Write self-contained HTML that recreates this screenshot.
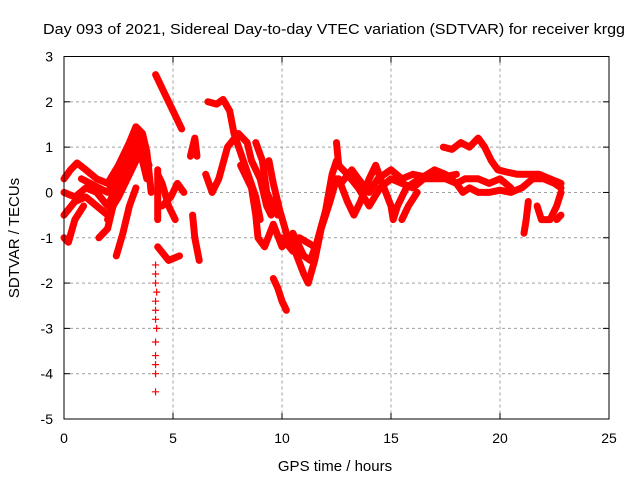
<!DOCTYPE html>
<html><head><meta charset="utf-8"><style>
body{margin:0;background:#fff;}
svg{display:block;font-family:"Liberation Sans",sans-serif;}
</style></head><body>
<svg id="chart" width="640" height="480">
<text x="334" y="34" font-size="15" text-anchor="middle" textLength="582" lengthAdjust="spacingAndGlyphs">Day 093 of 2021, Sidereal Day-to-day VTEC variation (SDTVAR) for receiver krgg</text>
<text x="335" y="471" font-size="15" text-anchor="middle">GPS time / hours</text>
<text x="0" y="0" font-size="15" text-anchor="middle" transform="translate(19,238) rotate(-90)">SDTVAR / TECUs</text>
<g id="grid"></g>
<g id="axes"></g>
<g id="series"></g>
<rect x="64" y="56.5" width="545" height="362.5" fill="none" stroke="#000" stroke-width="1"/>
</svg>
<script>
const xTicks=[0,5,10,15,20,25];
const yTicks=[3,2,1,0,-1,-2,-3,-4,-5];
const tracks=[
[[0,0.3],[0.3,0.5],[0.6,0.65],[1,0.5],[1.5,0.3],[2,0.2],[2.5,0.6],[3,1.1],[3.3,1.45],[3.6,1.3],[3.8,0.9],[4.0,0.0]],
[[0,0.0],[0.5,-0.1],[1,0.1],[1.5,0.0],[2,-0.3],[2.5,0.2],[3,0.7],[3.5,1.2],[3.9,0.6]],
[[0,-0.5],[0.5,-0.2],[1,-0.1],[1.5,-0.3],[2.0,-0.5],[2.5,-0.1],[3,0.4],[3.5,0.9],[3.8,0.3]],
[[0.8,0.3],[1.2,0.2],[1.6,0.1],[2.0,0.0],[2.4,0.3]],
[[2.2,0.0],[2.6,0.5],[3.0,1.0],[3.4,1.4],[3.7,1.0]],
[[2.0,-0.6],[2.5,0.0],[3.0,0.5],[3.5,1.0],[3.9,0.4]],
[[0,-1.0],[0.2,-1.1],[0.5,-0.6],[0.9,-0.3]],
[[1.6,-1.0],[2,-0.8],[2.3,-0.2],[2.8,0.3]],
[[2.4,-1.4],[2.7,-0.9],[3.0,-0.3],[3.3,0.1]],
[[4.2,2.6],[4.5,2.3],[4.8,2.0],[5.1,1.7],[5.4,1.4]],
[[4.3,0.5],[4.3,-0.6]],
[[4.3,0.4],[4.5,0.2],[4.8,-0.3],[5.1,-0.6]],
[[4.5,-0.3],[4.9,-0.1],[5.2,0.2],[5.5,0.0]],
[[4.3,-1.2],[4.8,-1.5],[5.3,-1.4]],
[[5.9,-0.5],[6.0,-1.0],[6.2,-1.5]],
[[5.8,0.8],[6.0,1.2],[6.1,0.8]],
[[6.5,0.4],[6.8,0.0],[7.1,0.3],[7.5,1.0],[8.0,1.3],[8.4,1.1],[8.6,0.7],[9.0,0.3],[9.3,-0.3],[9.5,-0.5]],
[[6.6,2.0],[7.0,1.95],[7.3,2.05],[7.6,1.8],[7.8,1.3],[8.3,0.6],[8.8,-0.1],[9.0,-0.6]],
[[8.8,1.1],[9.1,0.7],[9.3,0.0],[9.8,-0.5]],
[[8.1,0.6],[8.6,0.1],[8.8,-0.5],[8.9,-1.0],[9.2,-1.2],[9.6,-0.7],[10,-1.2],[10.5,-0.9],[11.0,-1.4],[11.3,-1.5],[11.6,-1.1],[12,-0.4],[12.3,0.4],[12.5,0.7]],
[[9.4,0.7],[9.6,0.2],[9.9,-0.4],[10.2,-0.9],[10.6,-1.3],[11.0,-1.8],[11.2,-2.0],[11.5,-1.5],[11.8,-0.8],[12.2,-0.2],[12.5,0.3]],
[[9.6,-1.9],[9.8,-2.1],[10.0,-2.4],[10.2,-2.6]],
[[10.0,-1.0],[10.5,-1.3],[10.8,-1.0],[11.5,-1.2]],
[[12.5,1.1],[12.6,0.6],[13,0.4],[13.5,0.1],[14,-0.3],[14.5,0.1],[15,0.3],[15.5,0.2],[16,0.1],[16.5,0.3],[17,0.3],[17.5,0.3],[18,0.2],[18.3,0.0],[18.6,0.1],[19,0.0],[19.5,0.0],[20,0.05],[20.5,0.0],[21,0.1],[21.5,0.3],[22,0.3],[22.5,0.2],[22.8,0.1]],
[[12.7,0.2],[13.2,0.5],[13.5,0.3],[14.0,0.0],[14.4,0.3],[15.0,0.5],[15.5,0.3],[16,0.4],[16.5,0.35],[17,0.5],[17.5,0.4],[18,0.2],[18.4,0.3],[19,0.3],[19.5,0.2],[20.0,0.3],[20.5,0.1]],
[[12.6,0.3],[13,-0.2],[13.3,-0.5],[13.6,-0.2],[14,0.3],[14.3,0.6],[14.6,0.2],[15.0,-0.3],[15.1,-0.6],[15.3,-0.3],[15.7,0.1],[16.3,0.3],[17,0.4],[17.5,0.35],[18,0.4]],
[[15.5,-0.6],[15.8,-0.3],[16.2,0.0]],
[[17.4,1.0],[17.8,0.95],[18.2,1.1],[18.6,1.0],[19.0,1.2],[19.3,1.0],[19.6,0.7],[19.9,0.5],[20.3,0.45],[20.8,0.4],[21.3,0.4],[21.8,0.4],[22.3,0.3],[22.8,0.2]],
[[21.7,-0.3],[21.9,-0.6],[22.3,-0.6],[22.6,-0.3],[22.8,0.0]],
[[22.6,-0.6],[22.8,-0.5]],
[[21.1,-0.9],[21.2,-0.6],[21.3,-0.2]]
];
const scatterT=[4.2,4.2,4.2,4.25,4.2,4.2,4.2,4.25,4.2,4.2,4.2,4.2,4.2];
const scatterV=[-1.6,-1.8,-2.0,-2.2,-2.4,-2.6,-2.8,-3.0,-3.3,-3.6,-3.8,-4.0,-4.4];

const X0=64,X1=609,Y0=419,Y1=56.5;
const xs=t=>X0+(t-0)/(25-0)*(X1-X0);
const ys=v=>Y0-(v+5)/(3+5)*(Y0-Y1);
const NS='http://www.w3.org/2000/svg';
const grid=document.getElementById('grid'),axes=document.getElementById('axes'),ser=document.getElementById('series');
function mk(tag,attrs,parent){const e=document.createElementNS(NS,tag);for(const k in attrs)e.setAttribute(k,attrs[k]);parent.appendChild(e);return e;}
xTicks.forEach(t=>{
  const x=xs(t);
  if(t>0&&t<25){const g=mk('line',{x1:x,x2:x,y1:Y1,y2:Y0,stroke:'#a0a0a0','stroke-dasharray':'3,3'},grid);
  
  }
  const tk=mk('line',{x1:x,x2:x,y1:Y0,y2:Y0-6,stroke:'#000'},axes);
  
  
  const tk2=mk('line',{x1:x,x2:x,y1:Y1,y2:Y1+6,stroke:'#000'},axes);
  
  
  const l=mk('text',{x:x,y:443,'font-size':14,'text-anchor':'middle'},axes);l.textContent=t;
  
  
});
yTicks.forEach(v=>{
  const y=ys(v);
  if(v>-5&&v<3){const g=mk('line',{x1:X0,x2:X1,y1:y,y2:y,stroke:'#a0a0a0','stroke-dasharray':'3,3'},grid);
  
  }
  const tk=mk('line',{x1:X0,x2:X0+6,y1:y,y2:y,stroke:'#000'},axes);
  
  
  const tk2=mk('line',{x1:X1,x2:X1-6,y1:y,y2:y,stroke:'#000'},axes);
  
  
  const l=mk('text',{x:53,y:y+5,'font-size':14,'text-anchor':'end'},axes);l.textContent=v;
  
  
});
tracks.forEach(tr=>{
  const p=mk('polyline',{points:tr.map(d=>xs(d[0]).toFixed(1)+','+ys(d[1]).toFixed(1)).join(' '),fill:'none',stroke:'#f00','stroke-width':7,'stroke-linejoin':'round','stroke-linecap':'round'},ser);
  
  
});
scatterT.forEach((t,i)=>{
  const x=xs(t),y=ys(scatterV[i]);
  const p=mk('path',{d:`M${x-3.5},${y}h7M${x},${y-3.5}v7`,stroke:'#f00','stroke-width':1.2},ser);
  
  
});
</script>
</body></html>
